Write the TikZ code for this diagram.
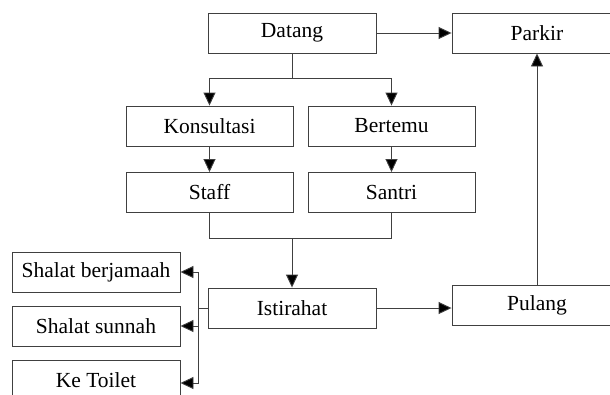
\documentclass[tikz,border=0pt]{standalone}
\usepackage{fontspec}
\setmainfont{Liberation Serif}
\newfontfamily\tnr{Liberation Serif}
\usetikzlibrary{arrows.meta,calc}
\begin{document}
\begin{tikzpicture}[x=1pt,y=-1pt,
 box/.style={draw=black!75,line width=0.9pt,minimum width=168pt,minimum height=40pt,inner sep=0pt,font=\tnr\fontsize{21.5}{25}\selectfont,anchor=center},
 ln/.style={draw=black!75,line width=0.9pt},
 arr/.style={ln,-{Triangle[length=13pt,width=12pt,fill=black]}}]
\useasboundingbox (0,0) rectangle (610,394);
\clip (0,0) rectangle (610,394);
\fill[white] (0,0) rectangle (610,394);
\node[box] (datang) at (292,33) {Datang};
\node[box,minimum width=170pt] (parkir) at (537,33) {Parkir};
\node[box,minimum width=167pt] (kons) at (209.5,126) {Konsultasi};
\node[box,minimum width=167pt] (bert) at (391.5,126) {Bertemu};
\node[box,minimum width=167pt] (staff) at (209.5,192.5) {Staff};
\node[box,minimum width=167pt] (santri) at (391.5,192.5) {Santri};
\node[box] (istirahat) at (292,308) {Istirahat};
\node[box,minimum width=170pt] (pulang) at (537,305) {Pulang};
\node[box] (sb) at (96,272) {Shalat berjamaah};
\node[box] (ss) at (96,326) {Shalat sunnah};
\node[box] (kt) at (96,380) {Ke Toilet};
\draw[arr] (datang) -- (parkir);
\coordinate (b1) at ($(datang.south)+(0,25)$);
\draw[ln] (datang.south) -- (b1);
\draw[arr] (b1) -| (kons.north);
\draw[arr] (b1) -| (bert.north);
\draw[arr] (kons) -- (staff);
\draw[arr] (bert) -- (santri);
\coordinate (j) at (istirahat.north |- 0,238);
\draw[ln] (staff.south) -- (staff.south |- j) -- (santri.south |- j) -- (santri.south);
\draw[arr] (j) -- (istirahat.north);
\draw[arr] (istirahat.east) -- (istirahat.east -| pulang.west);
\draw[arr] (pulang) -- (parkir);
\coordinate (v) at (198,308);
\draw[ln] (istirahat.west) -- (v);
\draw[arr] (v) |- (sb.east);
\draw[arr] (v) |- (ss.east);
\draw[arr] (v) |- ([yshift=-3pt]kt.east);
\end{tikzpicture}
\end{document}
